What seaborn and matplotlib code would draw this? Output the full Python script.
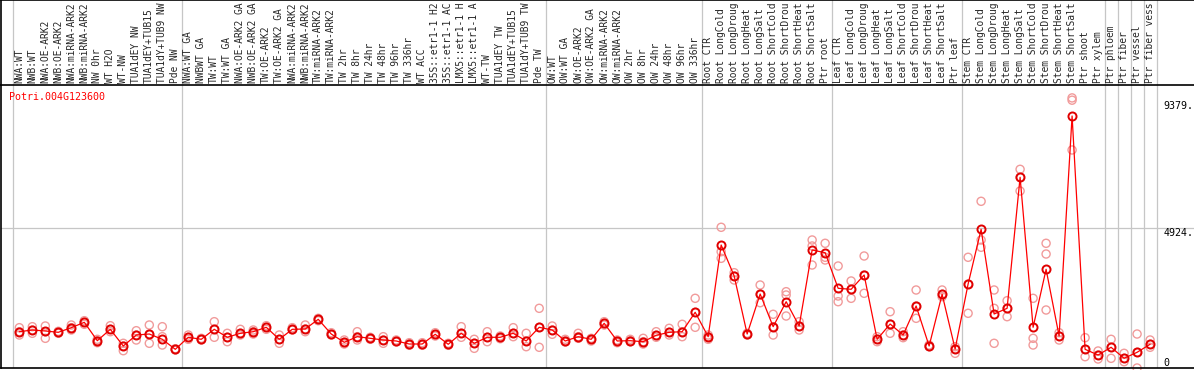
import numpy as np
import pandas as pd
import matplotlib
matplotlib.use("Agg")
import matplotlib.pyplot as plt
import seaborn as sns

gene_id = "Potri.004G123600"

# sample labels as printed (truncated to 14 chars in the source chart)
labels = [
    "NWA:WT", "NWB:WT", "NWA:OE-ARK2", "NWB:OE-ARK2", "NWA:miRNA-ARK2", "NWB:miRNA-ARK2",
    "NW 0hr", "WT H2O", "WT-NW", "TUA1dEY NW", "TUA1dEY+TUB15", "TUA1dY+TUB9 NW", "Pde NW",
    "NWA:WT GA", "NWBWT GA", "TW:WT", "TW:WT GA", "NWA:OE-ARK2 GA", "NWB:OE-ARK2 GA",
    "TW:OE-ARK2", "TW:OE-ARK2 GA", "NWA:miRNA-ARK2", "NWB:miRNA-ARK2", "TW:miRNA-ARK2",
    "TW:miRNA-ARK2", "TW 2hr", "TW 8hr", "TW 24hr", "TW 48hr", "TW 96hr", "TW 336hr",
    "WT ACC", "35S::etr1-1 H2", "35S::etr1-1 AC", "LMX5::etr1-1 H", "LMX5::etr1-1 A",
    "WT-TW", "TUA1dEY TW", "TUA1dEY+TUB15", "TUA1dY+TUB9 TW", "Pde TW",
    "OW:WT", "OW:WT GA", "OW:OE-ARK2", "OW:OE-ARK2 GA", "OW:miRNA-ARK2", "OW:miRNA-ARK2",
    "OW 2hr", "OW 8hr", "OW 24hr", "OW 48hr", "OW 96hr", "OW 336hr",
    "Root CTR", "Root LongCold", "Root LongDroug", "Root LongHeat", "Root LongSalt",
    "Root ShortCold", "Root ShortDrou", "Root ShortHeat", "Root ShortSalt", "Ptr root",
    "Leaf CTR", "Leaf LongCold", "Leaf LongDroug", "Leaf LongHeat", "Leaf LongSalt",
    "Leaf ShortCold", "Leaf ShortDrou", "Leaf ShortHeat", "Leaf ShortSalt", "Ptr leaf",
    "Stem CTR", "Stem LongCold", "Stem LongDroug", "Stem LongHeat", "Stem LongSalt",
    "Stem ShortCold", "Stem ShortDrou", "Stem ShortHeat", "Stem ShortSalt", "Ptr shoot",
    "Ptr xylem", "Ptr phloem", "Ptr fiber", "Ptr vessel", "Ptr fiber vess",
]
group_sizes = [13, 28, 12, 10, 10, 11, 1, 1, 1, 1]

mean_expr = [
    1274, 1334, 1299, 1253, 1415, 1604, 958, 1358, 772, 1158, 1193, 1007, 656,
    1078, 1007, 1358, 1078, 1218, 1274, 1429, 1007, 1358, 1369, 1709, 1193, 902, 1099,
    1042, 983, 948, 842, 842, 1183, 832, 1218, 867, 1078, 1078, 1218, 948, 1429,
    1334, 948, 1099, 1007, 1569, 948, 958, 923, 1148, 1253, 1274, 1955,
    1099, 4317, 3229, 1193, 2597, 1450, 2327, 1474, 4142, 4047,
    2797, 2762, 3264, 1007, 1544, 1158, 2176, 772, 2587, 667,
    2948, 4868, 1895, 2095, 6694, 1429, 3464, 1123, 8845, 656, 456,
    727, 340, 551, 832,
]
rep_a = [
    1415, 1450, 1474, 1288, 1509, 1660, 1007, 1485, 867, 1309, 1509, 1450, 677,
    1158, 1042, 1625, 1218, 1358, 1334, 1485, 1158, 1415, 1509, 1744, 1239, 983, 1274,
    1078, 1099, 983, 888, 888, 1239, 867, 1450, 1007, 1274, 1123, 1415, 1218, 2095,
    1474, 1007, 1218, 1042, 1625, 983, 1007, 1042, 1274, 1393, 1534, 2446,
    1158, 4939, 3345, 1218, 2913, 1885, 2678, 1625, 4493, 4377,
    3580, 3054, 3931, 1099, 1976, 1274, 2738, 807, 2738, 748,
    3886, 5851, 2738, 2362, 6974, 2446, 4377, 1239, 9480, 1064, 597,
    1007, 516, 1193, 983,
]
rep_b = [
    1274, 1334, 1274, 1253, 1415, 1604, 958, 1358, 772, 1158, 1193, 1099, 656,
    1078, 1007, 1358, 1078, 1218, 1274, 1429, 1007, 1358, 1369, 1709, 1193, 902, 1099,
    1042, 983, 948, 842, 842, 1183, 832, 1218, 867, 1078, 1078, 1218, 948, 1429,
    1334, 948, 1099, 1007, 1569, 948, 958, 923, 1148, 1253, 1274, 1955,
    1099, 4082, 3229, 1193, 2597, 1450, 2562, 1474, 4282, 3886,
    2527, 2762, 3264, 1007, 1544, 1158, 2176, 772, 2587, 667,
    2948, 4493, 2095, 2095, 6694, 1042, 4001, 1123, 9400, 656, 456,
    727, 340, 551, 832,
]
rep_c = [
    1158, 1218, 1042, 1218, 1334, 1534, 888, 1274, 607, 983, 867, 807, 632,
    1007, 983, 1078, 923, 1158, 1193, 1358, 867, 1334, 1274, 1660, 1158, 842, 983,
    1007, 867, 913, 797, 797, 1123, 797, 1078, 691, 923, 1028, 1099, 748, 727,
    1183, 913, 1042, 948, 1509, 888, 923, 842, 1078, 1158, 1099, 1429,
    1007, 3850, 3089, 1158, 2292, 1158, 1825, 1334, 3615, 3791,
    2327, 2446, 2622, 923, 1218, 1064, 1744, 748, 2503, 516,
    1920, 4237, 867, 1801, 6213, 807, 2036, 983, 7652, 397, 316,
    340, 221, 0, 727,
]
y_marks = [9379, 4924, 0]
y_mark_text = ["9379.", "4924.", "0"]

sns.set_style("white")
plt.rcParams["font.family"] = ["DejaVu Sans Mono"]

pos = np.arange(len(labels))
means = pd.DataFrame({"pos": pos, "expr": mean_expr})
reps = pd.DataFrame({"pos": pos, "a": rep_a, "b": rep_b, "c": rep_c}).melt(
    id_vars="pos", value_name="expr")

W, H = 1194, 370
fig = plt.figure(figsize=(W / 100, H / 100), dpi=100)
ax = fig.add_axes([1 / W, 2 / H, 1193 / W, 283 / H])
head = fig.add_axes([1 / W, 285 / H, 1193 / W, 85 / H], sharex=ax)

grid_c = "#c6c6c6"
bounds = np.cumsum([0] + group_sizes) - 0.5
for a in (ax, head):
    for b in bounds:
        a.axvline(b, color=grid_c, lw=0.9, zorder=0)
ax.axhline(y_marks[1], color=grid_c, lw=0.9, zorder=0)

# replicates (light) then the mean line on top
sns.scatterplot(data=reps, x="pos", y="expr", ax=ax, s=34, marker="o",
                facecolors="none", edgecolor="#f19b9b", linewidth=1.0,
                legend=False, zorder=2, clip_on=False)
sns.lineplot(data=means, x="pos", y="expr", ax=ax, color="#ff0000", lw=0.9,
             marker="o", markersize=5.8, markerfacecolor="none",
             markeredgecolor="#e00000", markeredgewidth=1.4, zorder=3)

ax.set_xlim(-1.41, 90.38)
ax.set_ylim(0, 9933)
ax.set_xlabel("")
ax.set_ylabel("")
ax.set_xticks([])
ax.set_yticks([])
for side in ["top", "right"]:
    ax.spines[side].set_visible(False)
for side in ["left", "bottom"]:
    ax.spines[side].set_color("black")
    ax.spines[side].set_linewidth(1.2)

# value marks on the right
for v, t in zip(y_marks, y_mark_text):
    ax.text(88.0, v, t, ha="left", va="bottom" if v == 0 else "top",
            fontsize=7.2, color="black")

ax.text(0.007, 0.959, gene_id, transform=ax.transAxes, color="#ff0000",
        fontsize=7.2, ha="left", va="center")

# header with vertical sample names
head.set_ylim(0, 1)
head.set_xticks([])
head.set_yticks([])
head.spines["right"].set_visible(False)
for side in ["top", "bottom", "left"]:
    head.spines[side].set_color("black")
    head.spines[side].set_linewidth(1.2)
tr = head.get_xaxis_transform()
for i, lab in enumerate(labels):
    head.text(i, 0.02, lab, rotation=90, ha="center", va="bottom",
              fontsize=6.9, transform=tr)

fig.savefig("out.png", dpi=100)
